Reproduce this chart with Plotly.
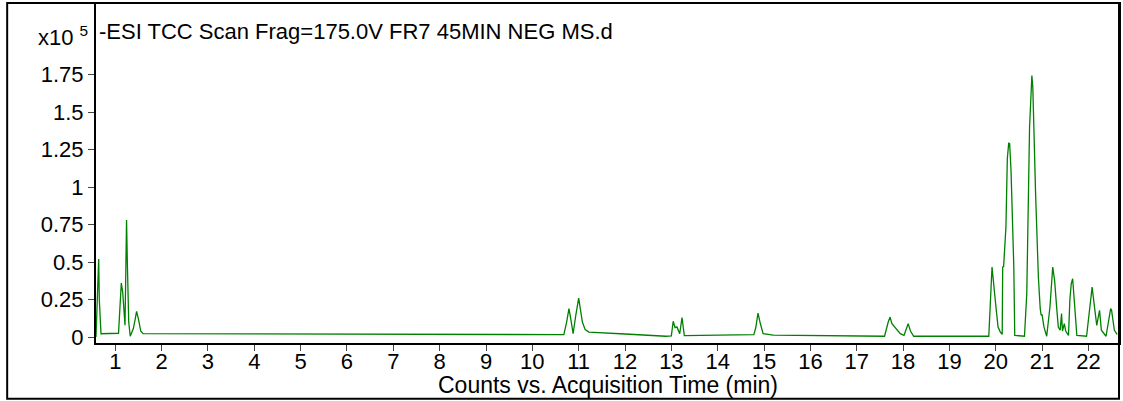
import plotly.graph_objects as go

# Acquisition time (min) and counts (x10^5)
time_min = [0.584, 0.635, 0.642, 0.655, 0.675, 0.692, 1.07, 1.10, 1.13, 1.16, 1.21, 1.23, 1.243, 1.26, 1.29, 1.323,
            1.39, 1.43, 1.46, 1.50, 1.55, 1.60, 3.0, 6.0, 9.0, 10.68,
            10.74, 10.79, 10.83, 10.88, 10.94, 10.98, 11.0, 11.03, 11.08, 11.14, 11.22, 12.0, 12.88,
            13.0, 13.04, 13.08, 13.12, 13.18, 13.23, 13.28, 13.5, 14.5, 14.78, 14.82, 14.87, 14.92, 14.98,
            15.2, 16.5, 17.6, 17.68, 17.72, 17.76, 17.84, 17.94, 18.02, 18.07, 18.11, 18.16, 18.23, 19.85,
            19.92, 19.99, 20.05, 20.10, 20.14, 20.15, 20.17, 20.22, 20.25, 20.28, 20.30, 20.33, 20.36, 20.39, 20.41,
            20.62, 20.67, 20.73, 20.78, 20.80, 20.86, 20.92, 20.96, 20.98, 21.0, 21.04, 21.10,
            21.17, 21.23, 21.27, 21.32, 21.35, 21.39, 21.42, 21.44, 21.48, 21.51, 21.57,
            21.60, 21.63, 21.66, 21.70, 21.75, 21.96, 22.03, 22.08, 22.14, 22.18, 22.24, 22.28,
            22.38, 22.41, 22.48, 22.50, 22.56, 22.62]
counts = [0.0, 0.45, 0.52, 0.25, 0.05, 0.022, 0.025, 0.2, 0.36, 0.3, 0.078, 0.5, 0.78, 0.5, 0.1, 0.005,
          0.056, 0.12, 0.171, 0.12, 0.04, 0.022, 0.021, 0.019, 0.017, 0.016,
          0.1, 0.189, 0.12, 0.022, 0.15, 0.23, 0.26, 0.2, 0.1, 0.049, 0.033, 0.02, 0.005,
          0.008, 0.105, 0.062, 0.067, 0.022, 0.129, 0.009, 0.01, 0.012, 0.016, 0.06, 0.16, 0.09, 0.022,
          0.013, 0.009, 0.005, 0.10, 0.133, 0.089, 0.056, 0.022, 0.011, 0.05, 0.089, 0.04, 0.005, 0.005,
          0.467, 0.245, 0.067, 0.033, 0.018, 0.467, 0.47, 0.733, 1.19, 1.293, 1.29, 1.11, 0.733, 0.467, 0.011,
          0.005, 0.29, 1.4, 1.745, 1.667, 0.956, 0.40, 0.189, 0.145, 0.15, 0.067, 0.005,
          0.2, 0.467, 0.378, 0.178, 0.067, 0.045, 0.156, 0.04, 0.089, 0.04, 0.011,
          0.25, 0.356, 0.389, 0.245, 0.011, 0.005, 0.2, 0.333, 0.178, 0.078, 0.178, 0.045,
          0.005, 0.067, 0.189, 0.178, 0.045, 0.018]

y_tickvals = [0, 0.25, 0.5, 0.75, 1, 1.25, 1.5, 1.75]
y_ticktext = ["0", "0.25", "0.5", "0.75", "1", "1.25", "1.5", "1.75"]
x_tickvals = list(range(1, 23))

title_text = "-ESI TCC Scan Frag=175.0V FR7 45MIN NEG MS.d"
x_title = "Counts vs. Acquisition Time (min)"

W, H = 1123, 401
L, R, T, B = 96, 2, 2, 58
pw, ph = W - L - R, H - T - B


def px(x):
    return (x - L) / pw


def py(y):
    return (H - B - y) / ph


FONT = "Liberation Sans, Arial, sans-serif"
FS = 22

fig = go.Figure()
fig.add_trace(go.Scatter(x=time_min, y=counts, mode="lines",
                         line=dict(color="#008000", width=1.3), hoverinfo="skip"))

fig.update_layout(
    width=W, height=H, margin=dict(l=L, r=R, t=T, b=B),
    paper_bgcolor="white", plot_bgcolor="white", showlegend=False,
    font=dict(family=FONT, size=FS, color="black"),
    xaxis=dict(range=[0.584, 22.66], tickvals=x_tickvals, ticks="outside", ticklen=6,
               tickcolor="#444", showgrid=False, zeroline=False, showline=True,
               linecolor="black", linewidth=2, mirror=True, ticklabelstandoff=-8,
               tickfont=dict(family=FONT, size=FS, color="black")),
    yaxis=dict(range=[-0.04, 2.222], tickvals=y_tickvals, ticktext=y_ticktext, ticks="outside",
               ticklen=6, tickcolor="#444", showgrid=False, zeroline=False, showline=True,
               linecolor="black", linewidth=2, mirror=True,
               tickfont=dict(family=FONT, size=FS, color="black")),
    shapes=[dict(type="rect", xref="paper", yref="paper", x0=px(7), x1=px(1121), y0=py(399), y1=py(1),
                 line=dict(color="black", width=2), fillcolor="rgba(0,0,0,0)", layer="above")],
    annotations=[
        dict(text="x10 <sup>5</sup>", xref="paper", yref="paper", x=px(90), y=py(34),
             xanchor="right", yanchor="middle", showarrow=False, font=dict(family=FONT, size=FS)),
        dict(text=title_text, xref="paper", yref="paper", x=px(97), y=py(30),
             xanchor="left", yanchor="middle", showarrow=False, font=dict(family=FONT, size=FS)),
        dict(text=x_title, xref="paper", yref="paper", x=0.5, y=py(385),
             xanchor="center", yanchor="middle", showarrow=False, font=dict(family=FONT, size=23)),
    ],
)

fig.write_html("out.html", config={"displayModeBar": False},
               post_script="document.body.style.margin='0';document.body.style.overflow='hidden';")
